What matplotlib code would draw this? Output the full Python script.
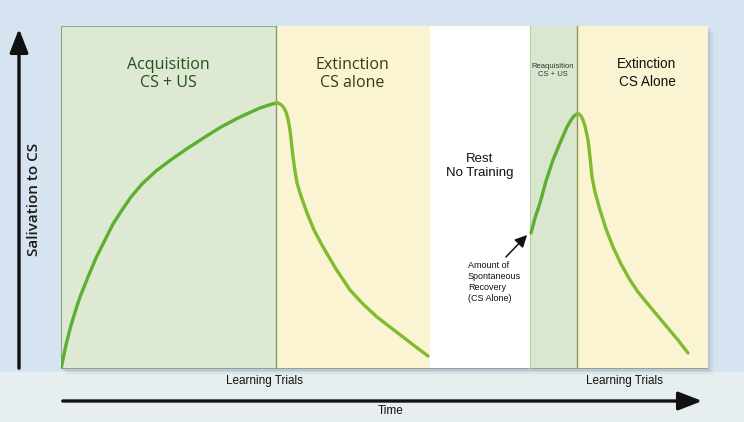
import matplotlib.pyplot as plt
from matplotlib.patches import Rectangle

# region boundaries along the time axis (same units as the curve x values)
region_edges = [0, 215, 369, 469, 516, 647]
region_colors = ['#dde9d2', '#fbf4d3', '#ffffff', '#d9e7cf', '#fbf4d3']

# curves (x = time, y = salivation)
acq_x = [0, 2, 5, 8, 10.7, 15, 19, 23, 27, 35, 44, 52, 61, 70, 81, 95, 111,
         127, 144, 160, 177, 190, 199, 208, 215]
acq_y = [0, 10, 24, 36, 46, 60, 72, 82, 92, 111, 129, 145, 159, 172, 185, 198, 210,
         221, 232, 242, 251, 257, 261, 264, 266]

ext1_x = [215, 217, 219, 221, 223, 225, 227, 229, 230.5, 232, 234, 236, 240, 246,
          253, 262, 275, 289, 302, 316, 329, 342, 355, 367]
ext1_y = [266, 266, 265, 263.5, 261, 257, 250, 239, 226, 212, 198, 186, 173, 156,
          139, 122, 100, 79, 65, 52, 42, 32, 22, 13]

reacq_x = [470, 474, 479, 485, 492, 499, 506, 510, 513, 516]
reacq_y = [136, 151, 166, 188, 209, 226, 242, 249, 253, 255]

ext2_x = [516, 518, 520, 522, 524, 527, 529, 531, 534, 539, 545, 552, 560, 569,
          577, 586, 596, 606, 617, 627]
ext2_y = [255, 255, 253, 249, 243, 229, 212, 192, 177, 159, 140, 122, 105, 89,
          77, 66, 54, 42, 29, 16]

W, H = 744, 422
fig = plt.figure(figsize=(W / 100, H / 100), dpi=100)
fig.patch.set_facecolor('#d6e4f1')

# lower light band
fig.patches.append(Rectangle((0, 0), 1, 50 / H, transform=fig.transFigure,
                             facecolor='#e7eef0', edgecolor='none', zorder=0))

# soft shadow behind the panel
for i, a in enumerate([0.12, 0.08, 0.05, 0.03]):
    off = (i + 1) * 1.5
    fig.patches.append(Rectangle(((61 + off) / W, (53 - off) / H), 647 / W, 343 / H,
                                 transform=fig.transFigure, facecolor='#6a7a8a',
                                 edgecolor='none', alpha=a, zorder=0.5))

ax = fig.add_axes([61 / W, 53 / H, 647 / W, 343 / H])
ax.set_zorder(2)
ax.set_xlim(0, 647)
ax.set_ylim(0, 343)
ax.axis('off')

for i, c in enumerate(region_colors):
    ax.axvspan(region_edges[i], region_edges[i + 1], color=c, zorder=0, lw=0)

# panel edges
ax.plot([0, 0], [0, 343], color='#6f9960', lw=1.2, zorder=1)
ax.plot([0, 215], [343, 343], color='#8fb07f', lw=0.8, zorder=1)
ax.plot([0, 647], [0, 0], color='#8a8f88', lw=1.2, zorder=1)
ax.axvline(215, color='#7f9c72', lw=1.0, zorder=1)
ax.axvline(469, color='#b9d4ab', lw=0.8, zorder=1)
ax.axvline(516, color='#8c9a55', lw=1.0, zorder=1)

style = dict(lw=2.4, solid_capstyle='round', solid_joinstyle='round', zorder=3)
ax.plot(acq_x, acq_y, color='#5caf30', **style)
ax.plot(ext1_x, ext1_y, color='#80bb30', **style)
ax.plot(reacq_x, reacq_y, color='#5caf30', **style)
ax.plot(ext2_x, ext2_y, color='#80bb30', **style)

# region labels
ax.text(107, 295, 'Acquisition\nCS + US', ha='center', va='center', fontsize=11.5,
        family='Open Sans', color='#24501a', linespacing=1.15)
ax.text(291, 295, 'Extinction\nCS alone', ha='center', va='center', fontsize=11.5,
        family='Open Sans', color='#3a3614', linespacing=1.15)
ax.text(419, 203, 'Rest\nNo Training', ha='center', va='center', fontsize=9.5,
        family='Liberation Sans', color='#111111', linespacing=1.2)
ax.text(492, 298, 'Reaquisition\nCS + US', ha='center', va='center', fontsize=5.5,
        family='Liberation Sans', color='#333333', linespacing=1.2)
ax.text(586, 296, 'Extinction\nCS Alone', ha='center', va='center', fontsize=9.8,
        family='Liberation Sans', color='#111111', linespacing=1.3)
ax.text(407, 108, 'Amount of\nSpontaneous\nRecovery\n(CS Alone)', ha='left', va='top',
        fontsize=6.5, family='Liberation Sans', color='#111111', linespacing=1.3)
ax.annotate('', xy=(468, 136), xytext=(443, 110),
            arrowprops=dict(arrowstyle='-|>,head_length=0.6,head_width=0.3',
                            color='#111111', lw=1.1, mutation_scale=12))

# axis arrows
ax.annotate('', xy=(19, H - 26), xytext=(19, H - 371), xycoords='figure pixels',
            textcoords='figure pixels', annotation_clip=False,
            arrowprops=dict(arrowstyle='-|>,head_length=0.9,head_width=0.35',
                            color='#111111', lw=2.4, mutation_scale=16))
ax.annotate('', xy=(705, H - 401), xytext=(60, H - 401), xycoords='figure pixels',
            textcoords='figure pixels', annotation_clip=False,
            arrowprops=dict(arrowstyle='-|>,head_length=0.9,head_width=0.35',
                            color='#111111', lw=2.4, mutation_scale=16))

fig.text(34 / W, 1 - 199 / H, 'Salivation to CS', rotation=90, ha='center', va='center',
         fontsize=11, family='Open Sans', fontweight='semibold', color='#1a1a1a')
fig.text(265 / W, 1 - 381 / H, 'Learning Trials', ha='center', va='center',
         fontsize=8.5, family='Liberation Sans', color='#111111')
fig.text(625 / W, 1 - 381 / H, 'Learning Trials', ha='center', va='center',
         fontsize=8.5, family='Liberation Sans', color='#111111')
fig.text(391 / W, 1 - 411 / H, 'Time', ha='center', va='center',
         fontsize=8.5, family='Liberation Sans', color='#111111')

fig.savefig('out.png', dpi=100, facecolor=fig.get_facecolor())
